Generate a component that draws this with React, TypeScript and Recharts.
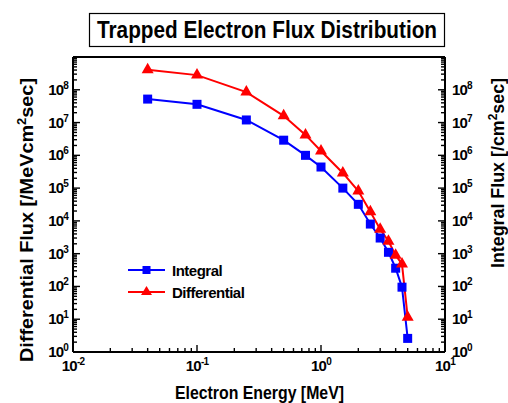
import React from "react";
import { LineChart, Line, XAxis, YAxis, Legend } from "recharts";

// Electron energy [MeV]
const energy = [0.04, 0.1, 0.25, 0.5, 0.75, 1.0, 1.5, 2.0, 2.5, 3.0, 3.5, 4.0, 4.5, 5.0];
// Integral flux [/cm2 sec]
const integralFlux = [5.2e7, 3.6e7, 1.2e7, 2.9e6, 1.0e6, 4.4e5, 1.0e5, 3.2e4, 8e3, 3e3, 1.1e3, 360, 95, 2.6];
// Differential flux [/MeV cm2 sec]
const differentialFlux = [4.1e8, 2.8e8, 8.5e7, 1.6e7, 4.2e6, 1.35e6, 2.9e5, 8.1e4, 1.9e4, 5.6e3, 2.4e3, 900, 480, 11.5];

const xDecades = [0.01, 0.1, 1, 10];
const yDecades = [1, 10, 100, 1e3, 1e4, 1e5, 1e6, 1e7, 1e8, 1e9];
const yLabelMax = 8; // 10^9 has no label

const FONT = "'Liberation Sans', Arial, Helvetica, sans-serif";
const BLUE = "#0000ff";
const RED = "#ff0000";

const W = 508;
const H = 403;

function withMinors(decades: number[]) {
  const out: number[] = [];
  decades.forEach((d, i) => {
    out.push(d);
    if (i < decades.length - 1) for (let k = 2; k <= 9; k++) out.push(+(k * d).toPrecision(6));
  });
  return out;
}

const xTicks = withMinors(xDecades);
const yTicks = withMinors(yDecades);

const rows = energy.map((e, i) => ({
  energy: e,
  integral: integralFlux[i],
  differential: differentialFlux[i],
}));

function exponentOf(v: number) {
  const e = Math.log10(v);
  const r = Math.round(e);
  return Math.abs(e - r) < 1e-6 ? r : null;
}

/** Inward tick marks (major + minor), labels outside for major decades. */
function makeTick(side: "bottom" | "top" | "left" | "right", showLabels: boolean) {
  return (props: any) => {
    const { x, y, payload } = props;
    const exp = exponentOf(payload.value);
    const len = exp != null ? 7 : 4;
    let line;
    if (side === "bottom") line = <line x1={x} y1={y} x2={x} y2={y - len} />;
    else if (side === "top") line = <line x1={x} y1={y} x2={x} y2={y + len} />;
    else if (side === "left") line = <line x1={x} y1={y} x2={x + len} y2={y} />;
    else line = <line x1={x} y1={y} x2={x - len} y2={y} />;

    let label = null;
    if (showLabels && exp != null && (side === "bottom" || exp <= yLabelMax)) {
      const common = { fontFamily: FONT, fontWeight: 700, fill: "#000", letterSpacing: -0.8 };
      if (side === "bottom") {
        label = (
          <text x={x} y={y + 19} textAnchor="middle" fontSize={15} {...common}>
            10<tspan dy={-6} fontSize={10}>{exp}</tspan>
          </text>
        );
      } else if (side === "left") {
        label = (
          <text x={x - 5} y={y + 5} textAnchor="end" fontSize={15} {...common}>
            10<tspan dy={-6} fontSize={10}>{exp}</tspan>
          </text>
        );
      } else if (side === "right") {
        label = (
          <text x={x + 7} y={y + 5} textAnchor="start" fontSize={15} {...common}>
            10<tspan dy={-6} fontSize={10}>{exp}</tspan>
          </text>
        );
      }
    }
    return (
      <g>
        <g stroke="#000" strokeWidth={1.4}>{line}</g>
        {label}
      </g>
    );
  };
}

function SquareDot(props: any) {
  const { cx, cy } = props;
  if (cx == null || cy == null) return null;
  return <rect x={cx - 4.5} y={cy - 4.5} width={9} height={9} fill={BLUE} />;
}

function TriangleDot(props: any) {
  const { cx, cy } = props;
  if (cx == null || cy == null) return null;
  return <polygon points={`${cx},${cy - 7} ${cx + 6},${cy + 3.5} ${cx - 6},${cy + 3.5}`} fill={RED} />;
}

function LegendBox() {
  const items = [
    { name: "Integral", color: BLUE, marker: "square" },
    { name: "Differential", color: RED, marker: "triangle" },
  ];
  return (
    <svg width={140} height={46} style={{ overflow: "visible", display: "block" }}>
      {items.map((it, i) => {
        const y = 8 + i * 22;
        return (
          <g key={it.name}>
            <line x1={0} y1={y} x2={37} y2={y} stroke={it.color} strokeWidth={2} />
            {it.marker === "square" ? (
              <rect x={18.5 - 4} y={y - 4} width={8} height={8} fill={it.color} />
            ) : (
              <polygon points={`18.5,${y - 6} 24,${y + 3} 13,${y + 3}`} fill={it.color} />
            )}
            <text x={44} y={y + 5.5} fontFamily={FONT} fontWeight={700} fontSize={15} fill="#000" letterSpacing={-0.5}>
              {it.name}
            </text>
          </g>
        );
      })}
    </svg>
  );
}

const axisLine = { stroke: "#000", strokeWidth: 2 };

export default function App() {
  return (
    <div style={{ position: "absolute", left: 0, top: 0, width: W, height: H, background: "#fff" }}>
      <LineChart
        width={W}
        height={H}
        data={rows}
        margin={{ top: 56, right: 62, bottom: 50, left: 72 }}
      >
        <XAxis
          xAxisId="bottom"
          dataKey="energy"
          type="number"
          scale="log"
          domain={[0.01, 10]}
          allowDataOverflow
          ticks={xTicks}
          interval={0}
          height={1}
          tickSize={0}
          tickMargin={0}
          tickLine={false}
          axisLine={axisLine}
          tick={makeTick("bottom", true)}
        />
        <XAxis
          xAxisId="top"
          orientation="top"
          type="number"
          scale="log"
          domain={[0.01, 10]}
          allowDataOverflow
          ticks={xTicks}
          interval={0}
          height={1}
          tickSize={0}
          tickMargin={0}
          tickLine={false}
          axisLine={axisLine}
          tick={makeTick("top", false)}
        />
        <YAxis
          yAxisId="left"
          type="number"
          scale="log"
          domain={[1, 1e9]}
          allowDataOverflow
          ticks={yTicks}
          interval={0}
          width={1}
          tickSize={0}
          tickMargin={0}
          tickLine={false}
          axisLine={axisLine}
          tick={makeTick("left", true)}
        />
        <YAxis
          yAxisId="right"
          orientation="right"
          type="number"
          scale="log"
          domain={[1, 1e9]}
          allowDataOverflow
          ticks={yTicks}
          interval={0}
          width={1}
          tickSize={0}
          tickMargin={0}
          tickLine={false}
          axisLine={axisLine}
          tick={makeTick("right", true)}
        />
        <Legend
          verticalAlign="middle"
          align="center"
          layout="vertical"
          wrapperStyle={{ position: "absolute", left: 128, top: 262, width: 140, height: 46 }}
          content={() => <LegendBox />}
        />
        <Line
          xAxisId="bottom"
          yAxisId="left"
          dataKey="integral"
          name="Integral"
          stroke={BLUE}
          strokeWidth={2}
          dot={<SquareDot />}
          isAnimationActive={false}
        />
        <Line
          xAxisId="bottom"
          yAxisId="left"
          dataKey="differential"
          name="Differential"
          stroke={RED}
          strokeWidth={2}
          dot={<TriangleDot />}
          isAnimationActive={false}
        />
      </LineChart>
      <svg width={W} height={H} style={{ position: "absolute", left: 0, top: 0, pointerEvents: "none" }}>
        <rect x={89.5} y={13.5} width={355} height={33} fill="#fff" stroke="#000" strokeWidth={1.2} />
        <text x={267} y={38} textAnchor="middle" fontFamily={FONT} fontWeight={700} fontSize={23} textLength={340} lengthAdjust="spacingAndGlyphs">
          Trapped Electron Flux Distribution
        </text>
        <text x={259.5} y={399} textAnchor="middle" fontFamily={FONT} fontWeight={700} fontSize={18.5} textLength={169} lengthAdjust="spacingAndGlyphs">
          Electron Energy [MeV]
        </text>
        <text
          transform="translate(33,220) rotate(-90)"
          textAnchor="middle"
          fontFamily={FONT}
          fontWeight={700}
          fontSize={18.5}
          textLength={284}
          lengthAdjust="spacingAndGlyphs"
        >
          Differential Flux [/MeVcm<tspan dy={-7} fontSize={12}>2</tspan><tspan dy={7}>sec]</tspan>
        </text>
        <text
          transform="translate(504,173) rotate(-90)"
          textAnchor="middle"
          fontFamily={FONT}
          fontWeight={700}
          fontSize={18}
          textLength={190}
          lengthAdjust="spacingAndGlyphs"
        >
          Integral Flux [/cm<tspan dy={-7} fontSize={12}>2</tspan><tspan dy={7}>sec]</tspan>
        </text>
      </svg>
    </div>
  );
}
